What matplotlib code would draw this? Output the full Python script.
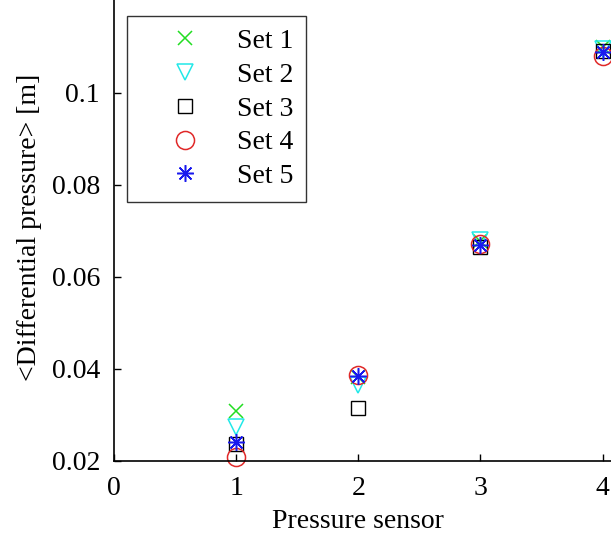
import matplotlib
matplotlib.use("Agg")
import matplotlib.pyplot as plt

plt.rcParams['font.family'] = ['Liberation Serif', 'DejaVu Serif']

# sensor positions and mean differential pressure [m] for each measurement set
sensors = [1, 2, 3, 4]
set1 = [0.0309, 0.0382, 0.0678, 0.1100]
set2 = [0.0275, 0.0365, 0.0680, 0.1095]
set3 = [0.0238, 0.0315, 0.0665, 0.1092]
set4 = [0.0209, 0.0387, 0.0672, 0.1080]
set5 = [0.0241, 0.0384, 0.0670, 0.1089]

labels = ['Set 1', 'Set 2', 'Set 3', 'Set 4', 'Set 5']
xticks = [0, 1, 2, 3, 4]
yticks = [0.02, 0.04, 0.06, 0.08, 0.1]
yticklabels = ['0.02', '0.04', '0.06', '0.08', '0.1']

fs = 20

fig = plt.figure(figsize=(6.11, 5.39), dpi=100)
ax = fig.add_axes([114 / 611, 78 / 539, 513 / 611, 483 / 539])

styles = [
    dict(marker='x', color='#22dd22', ms=10, mew=1.1),
    dict(marker='v', color='#22e8e8', ms=12, mew=1.1, mfc='none'),
    dict(marker='s', color='black', ms=10, mew=1.0, mfc='none'),
    dict(marker='o', color='#e02828', ms=13, mew=1.1, mfc='none'),
    dict(marker=(8, 2, 0), color='#1a1aee', ms=12, mew=1.1),
]
for vals, lab, st in zip([set1, set2, set3, set4, set5], labels, styles):
    ax.plot(sensors, vals, linestyle='none', label=lab, clip_on=False, **st)

ax.set_xlim(0, 4.2)
ax.set_ylim(0.02, 0.125)
ax.set_xticks(xticks)
ax.set_yticks(yticks)
ax.set_yticklabels(yticklabels)
ax.tick_params(direction='in', length=5, width=1, labelsize=fs)
ax.tick_params(axis='x', pad=11)
ax.tick_params(axis='y', pad=10)

for s in ['top', 'right']:
    ax.spines[s].set_visible(False)
for s in ['left', 'bottom']:
    ax.spines[s].set_linewidth(1.2)

ax.set_xlabel('Pressure sensor', fontsize=fs)
ax.set_ylabel('<Differential pressure> [m]', fontsize=fs)
ax.xaxis.set_label_coords((358 - 114) / 513, (461 - 509) / 483)
ax.yaxis.set_label_coords((42 - 114) / 513, (461 - 227) / 483)

leg = ax.legend(loc='upper left', bbox_to_anchor=(13 / 513, (461 - 16) / 483),
                fontsize=fs, frameon=True, fancybox=False, edgecolor='black',
                borderpad=0.45, labelspacing=0.3, handlelength=3.3,
                handletextpad=0.2, borderaxespad=0)
leg.get_frame().set_linewidth(1.0)

fig.savefig('out.png', dpi=100)
